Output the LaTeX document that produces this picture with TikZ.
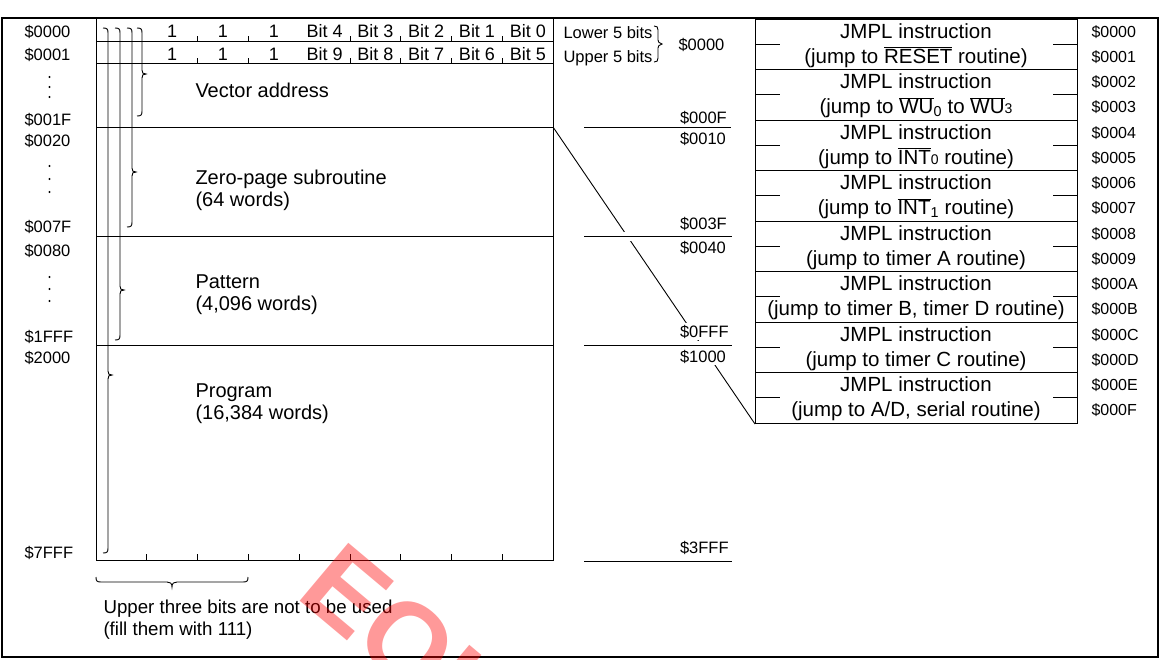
\documentclass[tikz,border=0pt]{standalone}
\usepackage{fontspec}
\setmainfont{Liberation Sans}
\usetikzlibrary{calc}
\newcommand\ovl[1]{$\overline{\hbox{#1}}$}
\newcommand\mybrace[4]{% x, top, tip, bottom
  \draw[thin line] ({#1-5},#2) .. controls ({#1-1},#2) and (#1,{#2+1}) .. (#1,{#2+5})
   -- (#1,{#3-4}) .. controls (#1,{#3-1}) and ({#1+1},#3) .. ({#1+4},#3)
   .. controls ({#1+1},#3) and (#1,{#3+1}) .. (#1,{#3+4})
   -- (#1,{#4-5}) .. controls (#1,{#4-1}) and ({#1-1},#4) .. ({#1-5},#4);}
\begin{document}
\begin{tikzpicture}[x=1pt,y=-1pt,line width=1pt,
  thin line/.style={line width=0.9pt},
  addr/.style={font=\fontsize{16.5}{18}\selectfont, anchor=base west, inner sep=0pt},
  lbl/.style={font=\fontsize{20}{22}\selectfont, anchor=base west, inner sep=0pt},
  bit/.style={font=\fontsize{18}{20}\selectfont, anchor=base, inner sep=0pt},
  mid/.style={font=\fontsize{16.5}{18}\selectfont, anchor=base west, fill=white, inner sep=1.5pt},
  jtxt/.style={font=\fontsize{20.5}{22}\selectfont, anchor=base, inner sep=0pt},
  raddr/.style={font=\fontsize{16}{17}\selectfont, anchor=base west, inner sep=0pt},
  vdot/.style={circle, fill=black, inner sep=0pt, minimum size=2.3pt},
  midline/.style={preaction={draw=white,line width=9pt}},
  wmark/.style={rotate=-40, text=red, opacity=0.4, font=\fontsize{110}{110}\selectfont\bfseries, inner sep=0pt}
]
\useasboundingbox (0,0) rectangle (1164,659);
\fill[white] (0,0) rectangle (1164,659);
% outer frame
\draw[line width=2pt] (1.5,18) rectangle (1157.5,657);

% memory map
\node[draw, line width=1pt, minimum width=457pt, minimum height=542pt, anchor=north west, inner sep=0pt] (mm) at (96,18) {};
\foreach \y in {41,63,127,236,345} \draw (96,\y) -- (553,\y);
\foreach \x in {197.6,248.4,350,400.8,451.6,502.4} {
  \draw[thin line] (\x,36) -- (\x,41);
  \draw[thin line] (\x,58) -- (\x,63);
}
\foreach \x in {146.8,197.6,248.4,299.2,350,400.8,451.6,502.4}
  \draw[thin line] (\x,554) -- (\x,560);

% bit labels
\foreach \x/\n in {172.2/1,223/2,273.8/3} {
  \node[bit] (ta\n) at (\x,37) {1};
  \node[bit] (tb\n) at (\x,60) {1};
}
\node[bit] (b4) at (324.6,37) {Bit 4};
\node[bit] (b3) at (375.4,37) {Bit 3};
\node[bit] (b2) at (426.2,37) {Bit 2};
\node[bit] (b1) at (477,37) {Bit 1};
\node[bit] (b0) at (527.8,37) {Bit 0};
\node[bit] (b9) at (324.6,60) {Bit 9};
\node[bit] (b8) at (375.4,60) {Bit 8};
\node[bit] (b7) at (426.2,60) {Bit 7};
\node[bit] (b6) at (477,60) {Bit 6};
\node[bit] (b5) at (527.8,60) {Bit 5};

% braces
\mybrace{108}{28}{375}{553}
\mybrace{120}{28}{290}{340}
\mybrace{132}{28}{172}{227}
\mybrace{142}{28}{74}{116}

% region labels
\node[lbl] (va) at (195,97) {Vector address};
\node[lbl] (zp1) at (195,184) {Zero-page subroutine};
\node[lbl] (zp2) at (195,206) {(64 words)};
\node[lbl] (pt1) at (195,288) {Pattern};
\node[lbl] (pt2) at (195,310) {(4,096 words)};
\node[lbl] (pg1) at (195,397) {Program};
\node[lbl] (pg2) at (195,419) {(16,384 words)};

% left addresses
\node[addr] (l0) at (24,37) {\$0000};
\node[addr] (l1) at (24,60) {\$0001};
\node[addr] (l2) at (24,125) {\$001F};
\node[addr] (l3) at (24,146) {\$0020};
\node[addr] (l4) at (24,232) {\$007F};
\node[addr] (l5) at (24,256) {\$0080};
\node[addr] (l6) at (24,342) {\$1FFF};
\node[addr] (l7) at (24,363) {\$2000};
\node[addr] (l8) at (24,558) {\$7FFF};
\foreach \y [count=\i] in {77,87,97,166,179,192,277,289,301}
  \node[vdot] (d\i) at (49.5,\y) {};

% bit-row notes
\node[addr] (lo5) at (563,38) {Lower 5 bits};
\node[addr] (up5) at (563,62) {Upper 5 bits};
\draw[thin line] (654,26) .. controls (657,26) and (658,27) .. (658,30) -- (658,40)
  .. controls (658,42) and (659,43) .. (662,44) .. controls (659,45) and (658,46) .. (658,48)
  -- (658,58) .. controls (658,61) and (657,62) .. (654,62);
\node[addr] (ad0) at (678,50) {\$0000};

% JMPL table
\node[draw, minimum width=322pt, minimum height=404pt, anchor=north west, inner sep=0pt] (tbl) at (755,19) {};
\coordinate (zc) at (553,127);
\draw[thin line] (zc) -- (tbl.south west);

% middle column
\draw[midline] (584,127) -- (731,127);
\draw[midline] (584,236) -- (732,236);
\draw[midline] (584,345) -- (732,345);
\draw[midline] (584,561) -- (732,561);
\node[mid] (m1) at (678,123) {\$000F};
\node[mid] (m2) at (678,144) {\$0010};
\node[mid] (m3) at (678,229) {\$003F};
\node[mid] (m4) at (678,253) {\$0040};
\node[mid] (m5) at (678,337) {\$0FFF};
\node[mid] (m6) at (678,362) {\$1000};
\node[mid] (m7) at (678,553) {\$3FFF};

\foreach \k in {1,...,7} \draw (755,{19+50.5*\k}) -- (1077,{19+50.5*\k});
\foreach \k in {0,...,7} {
  \draw[thin line] (755,{44.25+50.5*\k}) -- (780,{44.25+50.5*\k});
  \draw[thin line] (1053,{44.25+50.5*\k}) -- (1077,{44.25+50.5*\k});
  \node[jtxt] (j\k) at (916,{38+50.5*\k}) {JMPL instruction};
}
\node[jtxt] (r0) at (916,63) {(jump to \ovl{RESET} routine)};
\node[jtxt] (r1) at (916,113.5) {(jump to \ovl{WU}\textsubscript{0} to \ovl{WU}{\fontsize{14}{14}\selectfont 3}};
\node[jtxt] (r2) at (916,164) {(jump to \ovl{INT}{\fontsize{14}{14}\selectfont 0} routine)};
\node[jtxt] (r3) at (916,214.5) {(jump to \ovl{INT}\textsubscript{1} routine)};
\node[jtxt] (r4) at (916,265) {(jump to timer A routine)};
\node[jtxt] (r5) at (916,315.5) {(jump to timer B, timer D routine)};
\node[jtxt] (r6) at (916,366) {(jump to timer C routine)};
\node[jtxt] (r7) at (916,416.5) {(jump to A/D, serial routine)};

\foreach \k/\a in {0/0,1/1,2/2,3/3,4/4,5/5,6/6,7/7,8/8,9/9,10/A,11/B,12/C,13/D,14/E,15/F}
  \node[raddr] (ra\k) at (1091,{37+25.25*\k}) {\$000\a};

% bottom brace and note
\draw[thin line] (96,577) .. controls (96,581) and (97,582) .. (101,582) -- (167,582)
  .. controls (170,582) and (172,583) .. (172,587) .. controls (172,583) and (174,582) .. (177,582)
  -- (243,582) .. controls (247,582) and (248,581) .. (248,577);
\node[font=\fontsize{18.7}{20}\selectfont, anchor=base west, inner sep=0pt] (n1) at (103,613) {Upper three bits are not to be used};
\node[font=\fontsize{18.7}{20}\selectfont, anchor=base west, inner sep=0pt] (n2) at (103,635) {(fill them with 111)};

% watermark
\node[wmark] (wm) at (405,640) {EOL};
\end{tikzpicture}
\end{document}
